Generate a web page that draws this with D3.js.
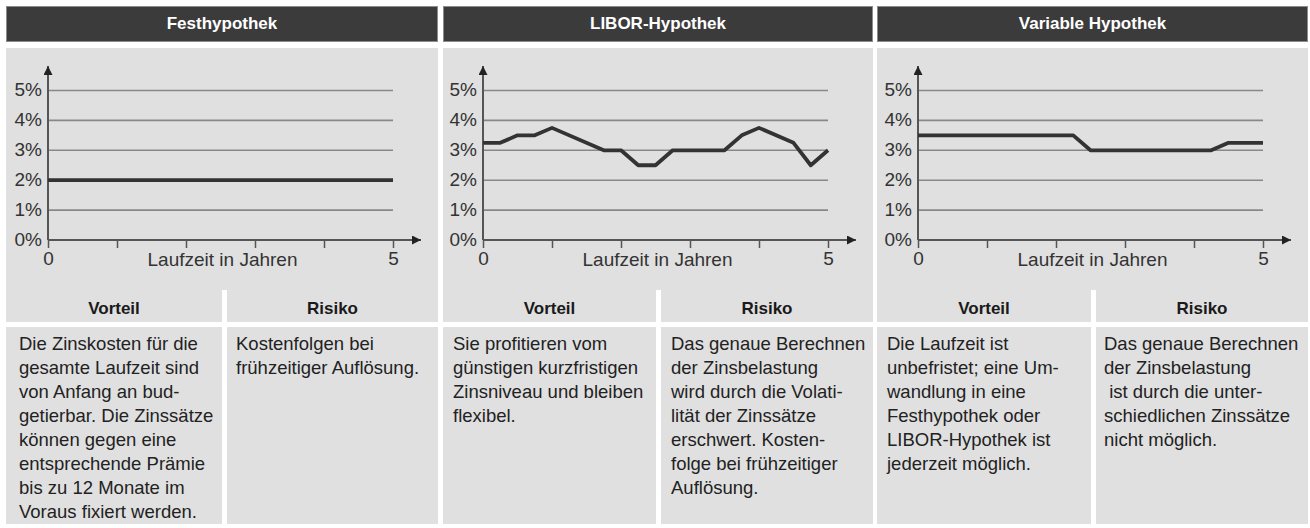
<!DOCTYPE html>
<html>
<head>
<meta charset="utf-8">
<script src="https://cdn.jsdelivr.net/npm/d3@7"></script>
<style>
body { margin: 0; background: #fff; }
text { font-family: "Liberation Sans", Arial, sans-serif; }
</style>
</head>
<body>
<svg></svg>
<script>
// chart data
var titles = ["Festhypothek", "LIBOR-Hypothek", "Variable Hypothek"];
var yTicks = [0, 1, 2, 3, 4, 5];
var xTicks = [0, 1, 2, 3, 4, 5];
var xLabelled = [0, 5];
var xAxisTitle = "Laufzeit in Jahren";
var subHeads = ["Vorteil", "Risiko"];

var festX = [0, 5];
var festY = [2, 2];
var liborX = [0, 0.25, 0.5, 0.75, 1, 1.75, 2, 2.25, 2.5, 2.75, 3.5, 3.75, 4, 4.5, 4.75, 5];
var liborY = [3.25, 3.25, 3.5, 3.5, 3.75, 3, 3, 2.5, 2.5, 3, 3, 3.5, 3.75, 3.25, 2.5, 3];
var varX = [0, 2.25, 2.5, 4.25, 4.5, 5];
var varY = [3.5, 3.5, 3, 3, 3.25, 3.25];

var vorteil = [
    ["Die Zinskosten für die", "gesamte Laufzeit sind", "von Anfang an bud-", "getierbar. Die Zinssätze", "können gegen eine", "entsprechende Prämie", "bis zu 12 Monate im", "Voraus fixiert werden."],
    ["Sie profitieren vom", "günstigen kurzfristigen", "Zinsniveau und bleiben", "flexibel."],
    ["Die Laufzeit ist", "unbefristet; eine Um-", "wandlung in eine", "Festhypothek oder", "LIBOR-Hypothek ist", "jederzeit möglich."]
];
var risiko = [
    ["Kostenfolgen bei", "frühzeitiger Auflösung."],
    ["Das genaue Berechnen", "der Zinsbelastung", "wird durch die Volati-", "lität der Zinssätze", "erschwert. Kosten-", "folge bei frühzeitiger", "Auflösung."],
    ["Das genaue Berechnen", "der Zinsbelastung", " ist durch die unter-", "schiedlichen Zinssätze", "nicht möglich."]
];

var series = [
    festX.map(function(d, i) { return [d, festY[i]]; }),
    liborX.map(function(d, i) { return [d, liborY[i]]; }),
    varX.map(function(d, i) { return [d, varY[i]]; })
];

// layout
var panelLeft = [6, 443, 877];
var panelRight = [438, 873, 1308];
var vorteilW = [216, 213, 214];
var originOff = [42, 40, 41];
var textPad = [13, 10, 10];
var textPadR = [9, 10, 8];

var grey = "#e0e0e0";
var dark = "#333";

var svg = d3.select("svg").attr("width", 1310).attr("height", 528);

var defs = svg.append("defs");
defs.append("marker")
    .attr("id", "arrow")
    .attr("viewBox", "0 0 10 10")
    .attr("refX", 10).attr("refY", 5)
    .attr("markerWidth", 14).attr("markerHeight", 9)
    .attr("markerUnits", "userSpaceOnUse")
    .attr("orient", "auto")
    .append("path")
    .attr("d", "M0,0L10,5L0,10z")
    .attr("fill", "#222");

var y = d3.scaleLinear().domain([0, 5]).range([240, 90.5]);

titles.forEach(function(title, p) {
    var L = panelLeft[p], R = panelRight[p], W = R - L;
    var g = svg.append("g");

    // header bar
    g.append("rect")
        .attr("x", L + 0.5).attr("y", 6.5)
        .attr("width", W - 1).attr("height", 35)
        .attr("fill", "#3b3b3b").attr("stroke", "#8c8c8c");
    g.append("text")
        .attr("x", L + W / 2).attr("y", 29)
        .attr("text-anchor", "middle")
        .attr("fill", "#fff").attr("font-weight", "bold").attr("font-size", 17)
        .text(title);

    // chart background
    g.append("rect")
        .attr("x", L).attr("y", 48).attr("width", W).attr("height", 242)
        .attr("fill", grey);

    // sub-header cells
    var cellX = [L, L + vorteilW[p] + 5];
    var cellW = [vorteilW[p], R - (L + vorteilW[p] + 5)];
    subHeads.forEach(function(s, j) {
        g.append("rect")
            .attr("x", cellX[j]).attr("y", 290).attr("width", cellW[j]).attr("height", 32)
            .attr("fill", grey);
        g.append("text")
            .attr("x", cellX[j] + cellW[j] / 2).attr("y", 314)
            .attr("text-anchor", "middle")
            .attr("fill", "#1a1a1a").attr("font-weight", "bold").attr("font-size", 17)
            .text(s);
        g.append("rect")
            .attr("x", cellX[j]).attr("y", 327).attr("width", cellW[j]).attr("height", 197)
            .attr("fill", grey);
    });

    // cell text
    var blocks = [vorteil[p], risiko[p]];
    var pads = [textPad[p], textPadR[p]];
    blocks.forEach(function(lines, j) {
        var t = g.append("text")
            .attr("x", cellX[j] + pads[j]).attr("y", 350)
            .attr("fill", "#222").attr("font-size", 18.5)
            .attr("xml:space", "preserve");
        t.selectAll("tspan")
            .data(lines)
            .enter()
            .append("tspan")
            .attr("x", cellX[j] + pads[j])
            .attr("dy", function(d, i) { return i === 0 ? 0 : 24; })
            .text(function(d) { return d; });
    });

    // chart
    var ox = L + originOff[p];
    var x = d3.scaleLinear().domain([0, 5]).range([ox, ox + 345]);

    g.selectAll(".grid")
        .data(yTicks.filter(function(d) { return d > 0; }))
        .enter()
        .append("line")
        .attr("x1", x(0)).attr("x2", x(5))
        .attr("y1", function(d) { return y(d); })
        .attr("y2", function(d) { return y(d); })
        .attr("stroke", "#888").attr("stroke-width", 1.6);

    var xAxis = g.append("g")
        .attr("transform", "translate(0," + y(0) + ")")
        .call(d3.axisBottom(x)
            .tickValues(xTicks)
            .tickSize(8)
            .tickPadding(4)
            .tickFormat(function(d) { return xLabelled.indexOf(d) >= 0 ? d : ""; }));
    xAxis.select(".domain").remove();
    xAxis.selectAll("line").attr("stroke", "#555").attr("stroke-width", 1.5);
    xAxis.selectAll("text")
        .attr("font-size", 19).attr("fill", dark)
        .style("font-family", "'Liberation Sans', Arial, sans-serif");

    var yAxis = g.append("g")
        .attr("transform", "translate(" + ox + ",0)")
        .call(d3.axisLeft(y)
            .tickValues(yTicks)
            .tickSize(0)
            .tickPadding(6)
            .tickFormat(function(d) { return d + "%"; }));
    yAxis.select(".domain").remove();
    yAxis.selectAll("text")
        .attr("font-size", 19).attr("fill", dark).attr("dy", "0.28em")
        .style("font-family", "'Liberation Sans', Arial, sans-serif");

    // axis lines with arrows
    g.append("line")
        .attr("x1", ox).attr("x2", ox + 373)
        .attr("y1", y(0)).attr("y2", y(0))
        .attr("stroke", "#555").attr("stroke-width", 2)
        .attr("marker-end", "url(#arrow)");
    g.append("line")
        .attr("x1", ox).attr("x2", ox)
        .attr("y1", y(0)).attr("y2", 66)
        .attr("stroke", "#555").attr("stroke-width", 2)
        .attr("marker-end", "url(#arrow)");

    g.append("text")
        .attr("x", (x(0) + x(5)) / 2 + 2).attr("y", 266)
        .attr("text-anchor", "middle")
        .attr("font-size", 19).attr("fill", dark)
        .text(xAxisTitle);

    // data line
    var line = d3.line()
        .x(function(d) { return x(d[0]); })
        .y(function(d) { return y(d[1]); });
    g.append("path")
        .datum(series[p])
        .attr("d", line)
        .attr("fill", "none")
        .attr("stroke", "#333")
        .attr("stroke-width", 3.8)
        .attr("stroke-linejoin", "round");
});
</script>
</body>
</html>
